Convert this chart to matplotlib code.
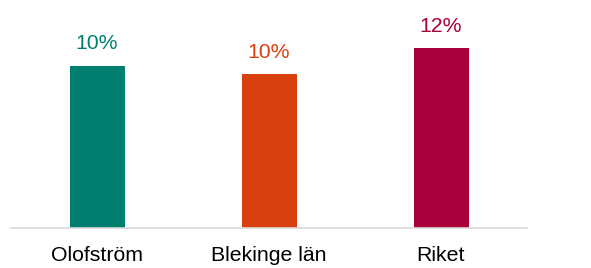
import matplotlib
matplotlib.use("Agg")
import matplotlib.pyplot as plt

categories = ["Olofström", "Blekinge län", "Riket"]
values = [10.46, 9.92, 11.6]
colors = ["#007E6E", "#D9400F", "#A8003B"]

plt.rcParams['font.family'] = ['Liberation Sans', 'DejaVu Sans']

fig = plt.figure(figsize=(5.91, 2.68), dpi=100)
ax = fig.add_axes([11/591, 1 - 228/268, 516/591, 228/268])
x = range(len(categories))
bars = ax.bar(x, values, width=55/172, color=colors)
ax.set_xlim(-0.5, len(categories) - 0.5)
ax.set_ylim(0, 14.72)
for b, v, c in zip(bars, values, colors):
    ax.annotate(f"{round(v):.0f}%", (b.get_x() + b.get_width()/2, v),
                xytext=(0, 9), textcoords="offset points",
                ha="center", va="bottom", fontsize=15.3, color=c)
ax.set_xticks(list(x))
ax.set_xticklabels(categories, fontsize=15.3)
ax.tick_params(axis="x", length=0, pad=13)
ax.set_yticks([])
for s in ["top", "right", "left"]:
    ax.spines[s].set_visible(False)
ax.spines["bottom"].set_color("#D9D9D9")
ax.spines["bottom"].set_linewidth(1.2)
fig.savefig("out.png", dpi=100)
